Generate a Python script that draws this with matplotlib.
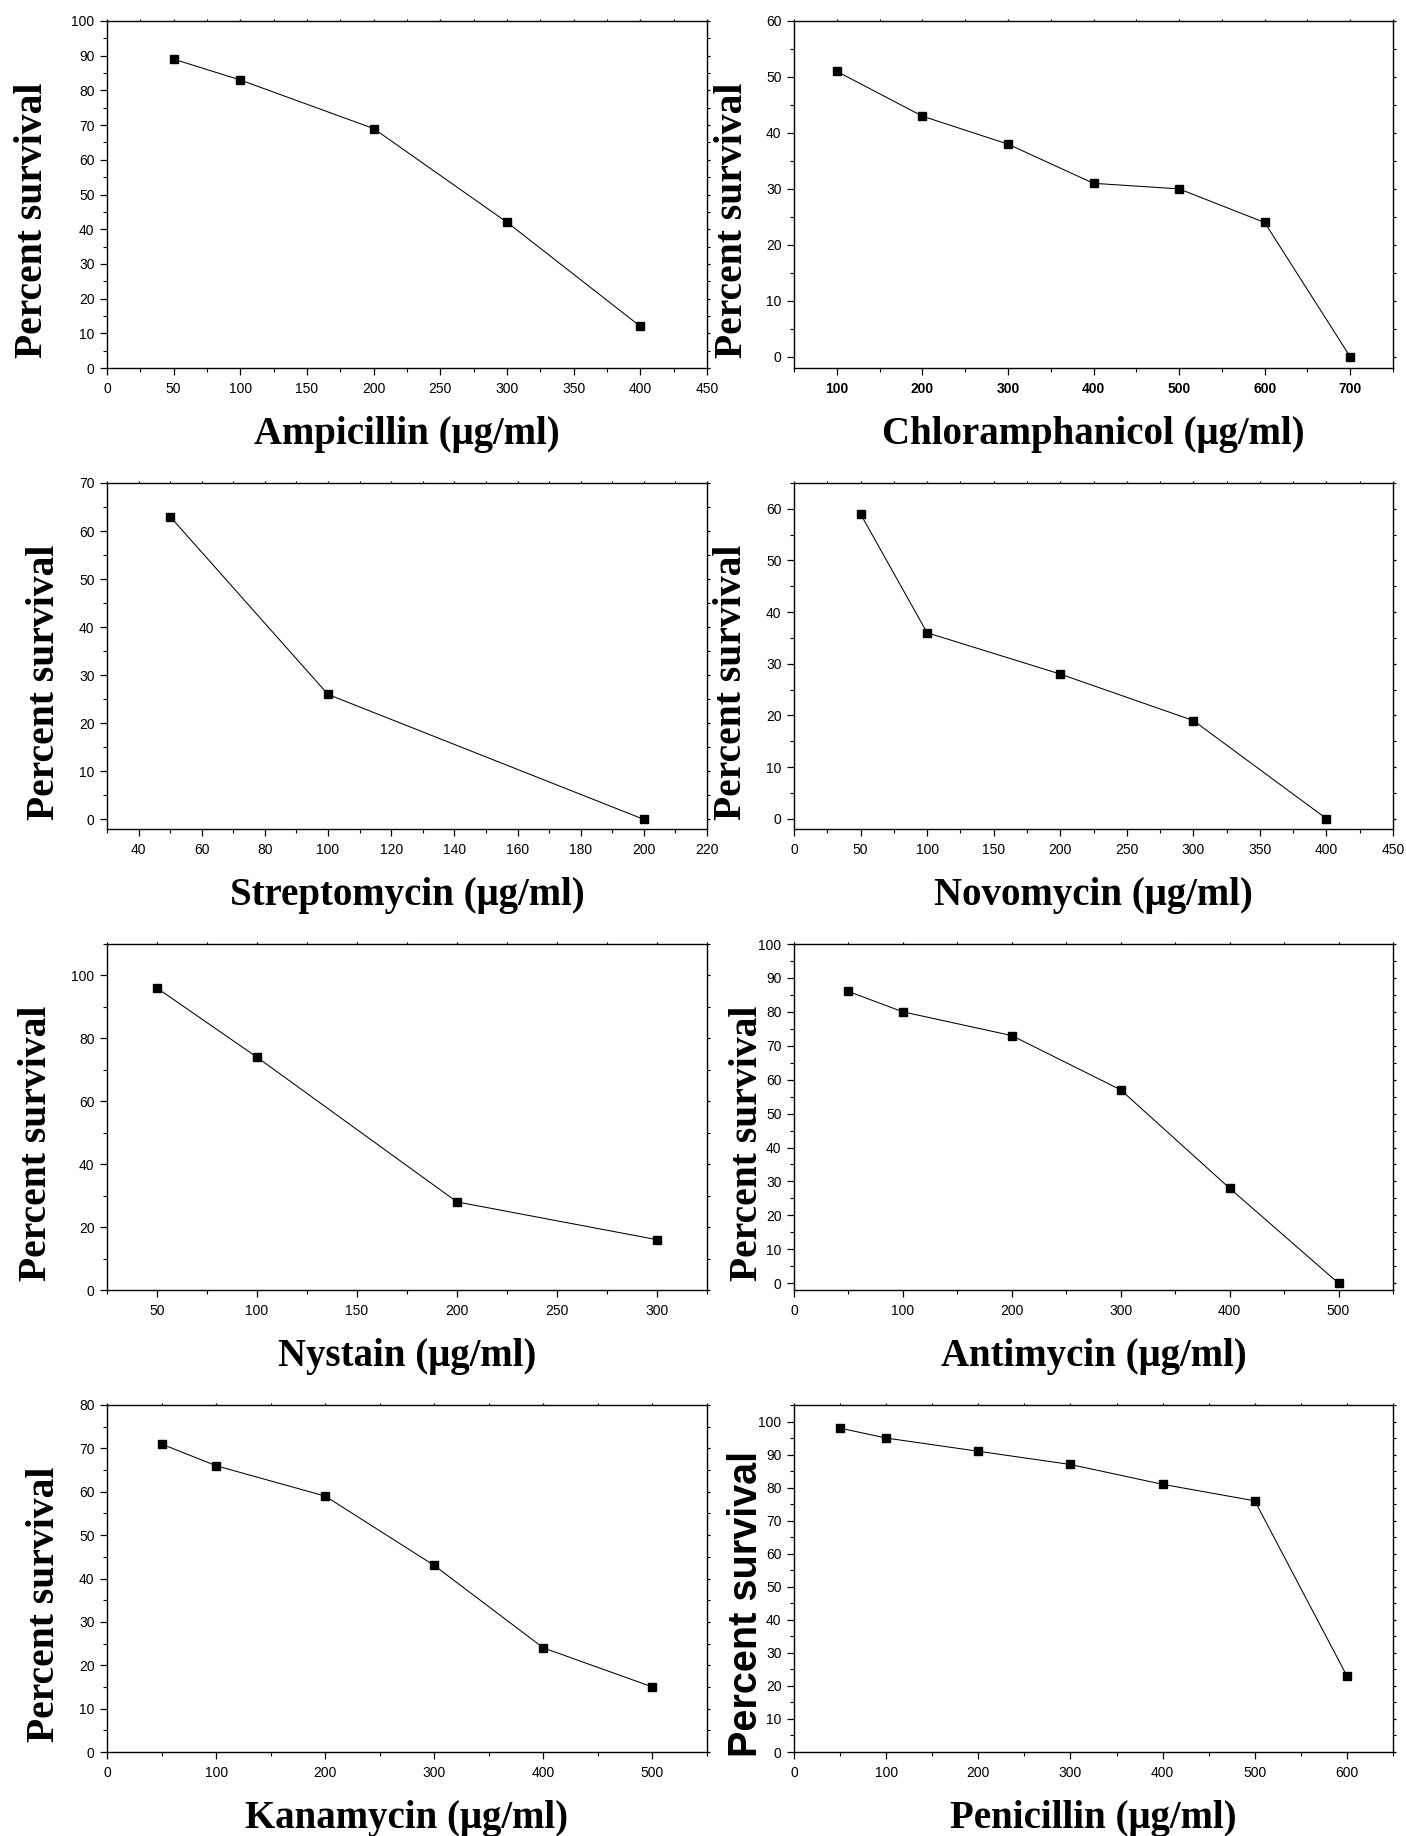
import matplotlib
matplotlib.use("Agg")
import matplotlib.pyplot as plt
from matplotlib.ticker import MultipleLocator

# survival data
ampicillin_dose = [50, 100, 200, 300, 400]
ampicillin_surv = [89, 83, 69, 42, 12]

chloramphanicol_dose = [100, 200, 300, 400, 500, 600, 700]
chloramphanicol_surv = [51, 43, 38, 31, 30, 24, 0]

streptomycin_dose = [50, 100, 200]
streptomycin_surv = [63, 26, 0]

novomycin_dose = [50, 100, 200, 300, 400]
novomycin_surv = [59, 36, 28, 19, 0]

nystain_dose = [50, 100, 200, 300]
nystain_surv = [96, 74, 28, 16]

antimycin_dose = [50, 100, 200, 300, 400, 500]
antimycin_surv = [86, 80, 73, 57, 28, 0]

kanamycin_dose = [50, 100, 200, 300, 400, 500]
kanamycin_surv = [71, 66, 59, 43, 24, 15]

penicillin_dose = [50, 100, 200, 300, 400, 500, 600]
penicillin_surv = [98, 95, 91, 87, 81, 76, 23]

names = ["Ampicillin", "Chloramphanicol", "Streptomycin", "Novomycin",
         "Nystain", "Antimycin", "Kanamycin", "Penicillin"]
doses = [ampicillin_dose, chloramphanicol_dose, streptomycin_dose, novomycin_dose,
         nystain_dose, antimycin_dose, kanamycin_dose, penicillin_dose]
survs = [ampicillin_surv, chloramphanicol_surv, streptomycin_surv, novomycin_surv,
         nystain_surv, antimycin_surv, kanamycin_surv, penicillin_surv]

# axis settings: xlim, ylim, x major/minor step, y major/minor step
xlims = [(0, 450), (50, 750), (30, 220), (0, 450), (25, 325), (0, 550), (0, 550), (0, 650)]
ylims = [(0, 100), (-2, 60), (-2, 70), (-2, 65), (0, 110), (-2, 100), (0, 80), (0, 105)]
xsteps = [(50, 25), (100, 50), (20, 10), (50, 25), (50, 25), (100, 50), (100, 50), (100, 50)]
ysteps = [(10, 5), (10, 5), (10, 5), (10, 5), (20, 10), (10, 5), (10, 5), (10, 5)]

W, H = 1406, 1836
# pixel boxes (left, top, right, bottom)
cols = [(107, 707), (794, 1393)]
rows = [(21, 368), (483, 829), (944, 1290), (1405, 1752)]
# ylabel baseline x and centre y, in pixels
ylab_pos = [(42, 220), (742, 220), (54, 682), (741, 682),
            (46, 1143), (757, 1143), (54, 1604), (757, 1604)]

plt.rcParams['font.family'] = ['Liberation Sans', 'DejaVu Sans']

fig = plt.figure(figsize=(W / 100, H / 100), dpi=100)

for i in range(8):
    l, r = cols[i % 2]
    t, b = rows[i // 2]
    ax = fig.add_axes([l / W, 1 - b / H, (r - l) / W, (b - t) / H])
    ax.plot(doses[i], survs[i], color='black', lw=0.75, marker='s',
            markersize=5.5, markerfacecolor='black', markeredgecolor='black')
    ax.set_xlim(*xlims[i])
    ax.set_ylim(*ylims[i])
    ax.xaxis.set_major_locator(MultipleLocator(xsteps[i][0]))
    ax.xaxis.set_minor_locator(MultipleLocator(xsteps[i][1]))
    ax.yaxis.set_major_locator(MultipleLocator(ysteps[i][0]))
    ax.yaxis.set_minor_locator(MultipleLocator(ysteps[i][1]))

    for s in ax.spines.values():
        s.set_linewidth(1.0)
    ax.tick_params(which='major', direction='out', length=5, width=0.9, labelsize=10)
    ax.tick_params(which='minor', direction='out', length=3, width=0.8)
    ax.tick_params(axis='x', which='both', pad=5)
    ax.tick_params(axis='y', which='both', pad=4)
    ax.tick_params(which='both', top=True, right=True)
    # short outward ticks on the mirrored top/right spines
    for tk in ax.xaxis.get_major_ticks() + ax.xaxis.get_minor_ticks():
        tk.tick2line.set_markersize(1.8)
    for tk in ax.yaxis.get_major_ticks() + ax.yaxis.get_minor_ticks():
        tk.tick2line.set_markersize(1.8)

    if i == 1:
        for lbl in ax.get_xticklabels():
            lbl.set_fontweight('bold')

    ax.set_xlabel(names[i] + " (\u03bcg/ml)", fontsize=28, fontweight='bold',
                  family=['Liberation Serif', 'DejaVu Serif'], va='baseline')
    ax.xaxis.set_label_coords(0.5, -76 / (b - t))

    if i == 7:
        ax.set_ylabel("Percent survival", fontsize=28.5, fontweight='bold',
                      family=['Liberation Sans', 'DejaVu Sans'],
                      ha='center', va='baseline', rotation_mode='anchor')
    else:
        ax.set_ylabel("Percent survival", fontsize=28.5, fontweight='bold',
                      family=['Liberation Serif', 'DejaVu Serif'],
                      ha='center', va='baseline', rotation_mode='anchor')
    bx, cy = ylab_pos[i]
    ax.yaxis.set_label_coords((bx - l) / (r - l), 1 - (cy - t) / (b - t))

fig.savefig("out.png", dpi=100, facecolor='white')
